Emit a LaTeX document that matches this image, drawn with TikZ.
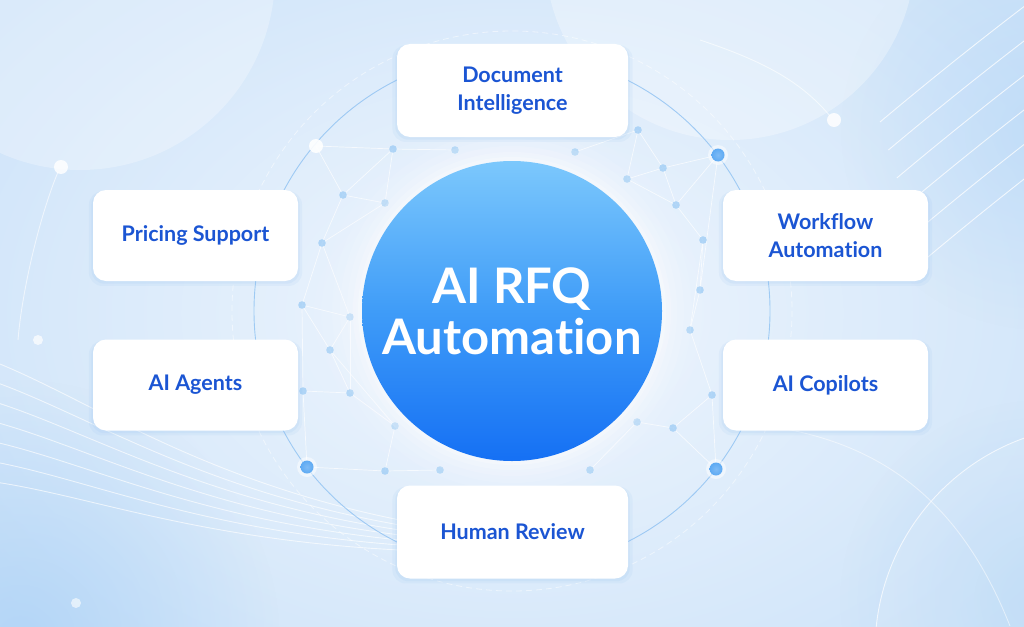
\documentclass[tikz,border=0pt]{standalone}
\usepackage{fontspec}
\newfontfamily\labfont{Lato}[Ligatures=NoCommon, Contextuals=NoAlternate]
\usetikzlibrary{shadows,calc,fadings}
\tikzfading[name=radfade, inner color=transparent!0, outer color=transparent!100]
\definecolor{bgin}{HTML}{F0F6FD}
\definecolor{bgout}{HTML}{CDE3F9}
\definecolor{deepbg}{HTML}{A9D0F6}
\definecolor{labblue}{HTML}{1B55D3}
\definecolor{hubtop}{HTML}{7CC8FC}
\definecolor{hubmid}{HTML}{3F9CF8}
\definecolor{hubbot}{HTML}{1570F4}
\definecolor{ringblue}{HTML}{8EC1F2}
\definecolor{dotblue}{HTML}{9CCBF5}
\definecolor{bigdot}{HTML}{5EAAF3}
\definecolor{shadowc}{HTML}{8DBDF0}
\tikzset{
  box/.style={draw=none, fill=white, rounded corners=13pt, minimum width=205pt, minimum height=91pt,
    align=center, text=labblue, font=\labfont\bfseries\fontsize{21.5}{28}\selectfont,
    general shadow={fill=shadowc, opacity=0.10, shadow scale=1.04, shadow yshift=-3pt},
    general shadow={fill=shadowc, opacity=0.12, shadow scale=1.015, shadow yshift=-2pt}},
  widebox/.style={box, minimum width=231pt, minimum height=93pt},
  hubstyle/.style={circle, minimum size=300pt, inner sep=0pt, top color=hubtop, bottom color=hubbot,
    middle color=hubmid, text=white, align=center, font=\labfont\bfseries\fontsize{49}{51}\selectfont},
  net/.style={white, line width=0.7pt, opacity=0.7},
  sdot/.style={fill=dotblue, opacity=0.75},
  swoosh/.style={white, line width=0.9pt, opacity=0.7},
  orbit/.style={ringblue, line width=0.9pt, opacity=0.8}
}
\begin{document}
\begin{tikzpicture}[x=1pt,y=-1pt]
\useasboundingbox (0,0) rectangle (1024,626);
% background
\shade[inner color=bgin, outer color=bgout] (-150,-150) rectangle (1174,776);
\fill[deepbg, opacity=0.7, path fading=radfade] (20,640) circle (260);
\fill[deepbg, opacity=0.5, path fading=radfade] (1040,600) circle (200);
\fill[deepbg, opacity=0.4, path fading=radfade] (1040,130) circle (200);
\fill[white, opacity=0.28] (80,-25) circle (195);
\fill[white, opacity=0.30] (730,-45) circle (185);
\fill[white, opacity=0.12] (1100,650) circle (225);
\draw[swoosh] (1100,650) circle (225);
\draw[swoosh, opacity=0.5] (1010,626) .. controls (960,500) and (880,440) .. (760,425);
% top-right sweeping lines
\foreach \d in {0,28,56,84,112,140} {
  \draw[swoosh, opacity=0.75] ($(880,122)+(\d*0.3,\d)$) .. controls ($(930,80)+(\d*0.3,\d)$) and ($(980,40)+(\d*0.3,\d)$) .. ($(1030,2)+(\d*0.3,\d)$);
}
\draw[swoosh, opacity=0.6] (700,40) .. controls (760,60) and (800,80) .. (830,116);
% bottom-left sweeping lines
\foreach \d in {0,20,40,60,80,100,120} {
  \draw[swoosh, opacity=0.65] (-5,{362+\d}) .. controls (90,{400+\d*0.8}) and (200,{480+\d*0.5}) .. (400,{520+\d*0.25});
}
\draw[swoosh, opacity=0.6] (58,172) .. controls (40,215) and (22,290) .. (18,340);
% orbit rings
\coordinate (c) at (512,311);
\draw[white, line width=0.8pt, opacity=0.5, dash pattern=on 6pt off 4pt] (c) circle (280);
\draw[orbit] (c) circle (258);
% network
\foreach \n/\x/\y in {n1/638/130,n2/663/168,n3/627/179,n4/393/149,n5/343/195,n6/385/203,n7/322/243,
  n8/302/305,n9/330/350,n10/350/317,n11/350/393,n12/303/391,n13/673/428,n14/637/422,n15/385/471,
  n16/395/426,n17/703/240,n18/690/330,n19/712/395,n20/676/205,n21/455/150,n22/575/152,n23/700/290,
  n24/440/470,n25/590/470,b1/718/155,b2/716/469,b3/307/467,w1/316/146}
  \coordinate (\n) at (\x,\y);
\foreach \a/\b in {n4/n5,n5/n6,n4/n6,n5/n7,n7/n8,n7/n10,n8/n10,n8/n9,n9/n10,n9/n11,n11/n12,n8/n12,
  n11/n16,n15/n16,n1/n2,n2/n3,n1/n3,n2/n20,n20/n17,n17/n18,n18/n19,n19/n13,n13/n14,b1/n2,b1/n20,
  w1/n5,w1/n4,b3/n15,b3/n12,b2/n13,b2/n19,n17/n23,n23/n18,n4/n21,n22/n1,n15/n24,n14/n25,n6/n7,n3/n20,
  n10/n11,n23/b1,n16/n9}
  \draw[net] (\a) -- (\b);
\foreach \n in {n1,n2,n3,n4,n5,n6,n7,n8,n9,n10,n11,n12,n13,n14,n15,n16,n17,n18,n19,n20,n21,n22,n23,n24,n25}
  \fill[sdot] (\n) circle (3.8);
\fill[white, opacity=0.9] (w1) circle (7);
\fill[white, opacity=0.85] (61,167) circle (7);
\fill[white, opacity=0.85] (834,120) circle (7);
\fill[white, opacity=0.7] (38,340) circle (5);
\fill[white, opacity=0.6] (76,603) circle (5);
\foreach \n in {b1,b2,b3} {
  \fill[white, opacity=0.5] (\n) circle (10);
  \shade[inner color=bigdot!80!white, outer color=bigdot] (\n) circle (6.5);
}
% hub halo
\foreach \r/\o in {190/0.06,180/0.08,172/0.10,165/0.14,159/0.18,154/0.25}
  \fill[white, opacity=\o] (c) circle (\r);
\node[hubstyle] (hub) at (c) {AI RFQ\\Automation};
% satellite boxes
\node[widebox] (doc) at (512.5,90.5) {Document\\Intelligence};
\node[box] (price) at (195.5,235.5) {Pricing Support};
\node[box] (agents) at (195.5,385) {AI Agents};
\node[box] (flow) at (825.5,235.5) {Workflow\\Automation};
\node[box] (copilot) at (825.5,385) {AI Copilots};
\node[widebox] (human) at (512.5,532) {Human Review};
\end{tikzpicture}
\end{document}
